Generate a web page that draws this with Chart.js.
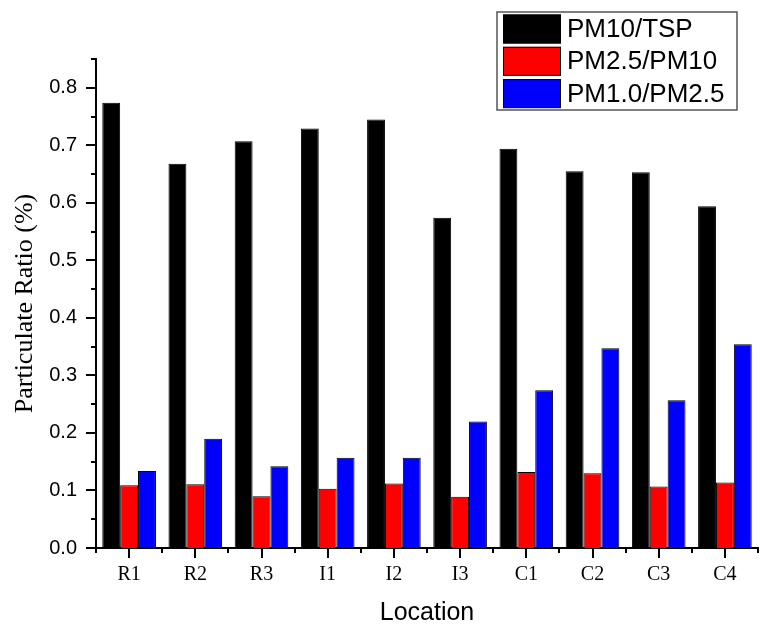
<!DOCTYPE html>
<html>
<head>
<meta charset="utf-8">
<script src="https://cdn.jsdelivr.net/npm/chart.js@4"></script>
<style>
  html, body { margin: 0; padding: 0; background: #fff; }
  #chart { display: block; }
</style>
</head>
<body>
<canvas id="chart" width="760" height="625"></canvas>
<script>
const locations = ['R1', 'R2', 'R3', 'I1', 'I2', 'I3', 'C1', 'C2', 'C3', 'C4'];
const pm10Tsp = [0.774, 0.668, 0.707, 0.729, 0.745, 0.574, 0.694, 0.655, 0.653, 0.594];
const pm25Pm10 = [0.109, 0.111, 0.090, 0.103, 0.112, 0.089, 0.132, 0.130, 0.107, 0.114];
const pm1Pm25 = [0.134, 0.190, 0.142, 0.157, 0.157, 0.220, 0.274, 0.347, 0.257, 0.354];
const yTicks = [0, 0.1, 0.2, 0.3, 0.4, 0.5, 0.6, 0.7, 0.8];
const yMax = 0.85;

// outward tick marks: long at labels, short in between
const tickMarks = {
    id: 'tickMarks',
    afterDraw(chart) {
        const ctx = chart.ctx;
        const x = chart.scales.x, y = chart.scales.y;
        ctx.save();
        ctx.strokeStyle = '#000';
        ctx.lineWidth = 2;
        ctx.beginPath();
        for (let i = 0; i <= yMax * 20 + 0.001; i++) {
            const py = Math.round(y.getPixelForValue(i * 0.05));
            const len = i % 2 === 0 ? 10 : 5;
            ctx.moveTo(x.left, py);
            ctx.lineTo(x.left - len, py);
        }
        const step = (x.right - x.left) / locations.length;
        for (let i = 0; i <= locations.length; i++) {
            const px = Math.round(x.left + i * step);
            ctx.moveTo(px, y.bottom);
            ctx.lineTo(px, y.bottom + 5);
        }
        locations.forEach((_, i) => {
            const px = Math.round(x.getPixelForValue(i));
            ctx.moveTo(px, y.bottom);
            ctx.lineTo(px, y.bottom + 10);
        });
        ctx.stroke();
        ctx.restore();
    }
};

// boxed legend in the upper right corner
const boxLegend = {
    id: 'boxLegend',
    afterDraw(chart) {
        const ctx = chart.ctx;
        const left = 497, top = 12, w = 240, h = 98;
        ctx.save();
        ctx.strokeStyle = '#555';
        ctx.lineWidth = 1.5;
        ctx.strokeRect(left, top, w, h);
        ctx.font = '26px "Liberation Sans", Arial, sans-serif';
        ctx.textBaseline = 'middle';
        ctx.fillStyle = '#000';
        chart.data.datasets.forEach((ds, i) => {
            const rowY = top + 2.5 + i * 32.3;
            ctx.fillStyle = ds.backgroundColor;
            ctx.fillRect(503, rowY, 58, 29);
            ctx.strokeStyle = '#000';
            ctx.lineWidth = 1;
            ctx.strokeRect(503.5, rowY + 0.5, 57, 28);
            ctx.fillStyle = '#000';
            ctx.fillText(ds.label, 567, rowY + 15.5);
        });
        ctx.restore();
    }
};

new Chart(document.getElementById('chart'), {
    type: 'bar',
    data: {
        labels: locations,
        datasets: [
            { label: 'PM10/TSP', data: pm10Tsp, backgroundColor: '#000000', borderColor: '#000', borderWidth: 1 },
            { label: 'PM2.5/PM10', data: pm25Pm10, backgroundColor: '#ff0000', borderColor: '#000', borderWidth: 1 },
            { label: 'PM1.0/PM2.5', data: pm1Pm25, backgroundColor: '#0000ff', borderColor: '#000', borderWidth: 1 }
        ]
    },
    options: {
        responsive: false,
        animation: false,
        devicePixelRatio: 1,
        layout: { padding: { top: 59, right: 2, left: 0, bottom: 0 } },
        datasets: { bar: { categoryPercentage: 0.81, barPercentage: 1.0 } },
        plugins: { legend: { display: false }, tooltip: { enabled: false } },
        scales: {
            x: {
                grid: { display: false, drawTicks: false },
                border: { display: true, color: '#000', width: 2 },
                ticks: {
                    color: '#000',
                    padding: 15,
                    maxRotation: 0,
                    font: { family: '"Liberation Serif", "Times New Roman", serif', size: 20 }
                },
                title: {
                    display: true,
                    text: 'Location',
                    color: '#000',
                    padding: { top: 0, bottom: -3 },
                    font: { family: '"Liberation Sans", Arial, sans-serif', size: 25 }
                },
                afterFit(scale) { scale.height = 77; }
            },
            y: {
                min: 0,
                max: yMax,
                grid: { display: false, drawTicks: false },
                border: { display: true, color: '#000', width: 2 },
                afterBuildTicks(scale) { scale.ticks = yTicks.map(v => ({ value: v })); },
                ticks: {
                    color: '#000',
                    padding: 19,
                    callback: v => Number(v).toFixed(1),
                    font: { family: '"Liberation Sans", Arial, sans-serif', size: 20 }
                },
                title: {
                    display: true,
                    text: 'Particulate Ratio (%)',
                    color: '#000',
                    padding: { top: 10, bottom: 0 },
                    font: { family: '"Liberation Serif", "Times New Roman", serif', size: 26 }
                },
                afterFit(scale) { scale.width = 96; }
            }
        }
    },
    plugins: [tickMarks, boxLegend]
});
</script>
</body>
</html>
